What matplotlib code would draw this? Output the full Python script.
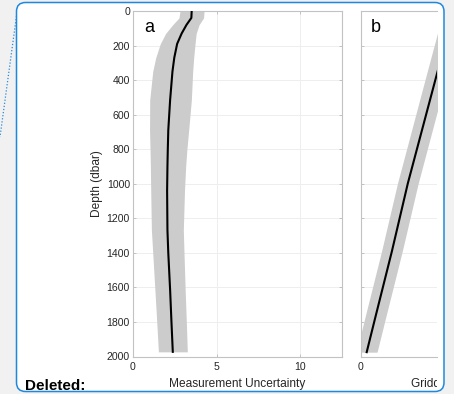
import numpy as np
import matplotlib
matplotlib.use("Agg")
import matplotlib.pyplot as plt
from matplotlib.patches import FancyBboxPatch
from matplotlib.lines import Line2D
from matplotlib.transforms import Bbox, IdentityTransform

depth_a = [0, 40, 80, 130, 190, 270, 350, 515, 690, 805, 900, 1040, 1268, 1400, 1615, 1800, 1973]
mean_a = [3.51, 3.49, 3.2, 2.91, 2.64, 2.47, 2.36, 2.22, 2.11, 2.08, 2.06, 2.04, 2.06, 2.11, 2.22, 2.3, 2.38]
lower_a = [2.81, 2.75, 2.37, 1.95, 1.63, 1.36, 1.18, 1.0, 0.99, 1.02, 1.04, 1.06, 1.1, 1.18, 1.31, 1.42, 1.52]
upper_a = [4.25, 4.22, 3.95, 3.78, 3.71, 3.63, 3.57, 3.49, 3.33, 3.22, 3.15, 3.08, 3.01, 3.05, 3.12, 3.19, 3.25]

# panel b: gridding uncertainty profile (only the left part is visible)
depth_b = [0, 361, 998, 1394, 1780, 1975]
mean_b = [5.55, 4.55, 2.8, 1.84, 0.84, 0.34]
lower_b = [4.93, 3.93, 2.18, 1.22, 0.22, -0.28]
upper_b = [6.17, 5.17, 3.42, 2.46, 1.46, 0.96]

depth_ticks = list(range(0, 2001, 200))
x_ticks_a = [0, 5, 10]
x_ticks_b = [0]
panel_labels = ["a", "b"]
x_labels = ["Measurement Uncertainty", "Gridding Uncertainty"]
y_label = "Depth (dbar)"

W, H = 454, 394
fig = plt.figure(figsize=(W / 100, H / 100), dpi=100)
fig.patch.set_facecolor("#f1f1f1")

plt.rcParams["font.family"] = ["Liberation Sans", "DejaVu Sans"]

# white rounded box with blue border (pixel coords, origin bottom-left)
box = FancyBboxPatch((16.5, 2.5), 444 - 16.5, 391.5 - 2.5,
                     boxstyle="round,pad=0,rounding_size=9",
                     transform=IdentityTransform(), facecolor="white",
                     edgecolor="#1f88de", linewidth=1.1, zorder=-5)
fig.patches.append(box)

# dotted connector at the left
fig.lines.append(Line2D([16.5, 0], [H - 16, H - 137], transform=IdentityTransform(),
                        color="#2a8ad8", linestyle=(0, (1, 1.5)), linewidth=0.9))

fig.text(25 / W, 4.5 / H, "Deleted:", fontsize=11, fontweight="bold",
         color="black", ha="left", va="baseline")

# axes geometry in pixels
top_px, bot_px = 11, 356.5
scale = 209 / 12.5   # pixels per unit on the x axis
ax_h = (bot_px - top_px) / H
ax_a = fig.add_axes([133 / W, (H - bot_px) / H, 209 / W, ax_h])
ax_b = fig.add_axes([361 / W, (H - bot_px) / H, 76 / W, ax_h])

spine_col = "#c2c2c2"
grid_col = "#eeeeee"

for ax, d, m, lo, hi in [(ax_a, depth_a, mean_a, lower_a, upper_a),
                          (ax_b, depth_b, mean_b, lower_b, upper_b)]:
    ax.fill_betweenx(d, lo, hi, color="#cccccc", linewidth=0, zorder=2)
    ax.plot(m, d, color="black", linewidth=1.5, zorder=3)
    ax.set_ylim(2000, 0)
    ax.set_yticks(depth_ticks)
    ax.grid(True, color=grid_col, linewidth=0.7, zorder=0)
    ax.set_axisbelow(True)
    for s in ax.spines.values():
        s.set_color(spine_col)
        s.set_linewidth(0.8)
    ax.tick_params(direction="in", length=2.5, width=0.7, color=spine_col,
                   labelsize=7.6, labelcolor="#262626", top=True, right=True)
    ax.tick_params(axis="x", pad=4.2)
    ax.tick_params(axis="y", pad=2.2)

ax_a.set_xlim(0, 12.5)
ax_a.set_xticks(x_ticks_a)

ax_b.set_xlim(0, 76 / scale)
ax_b.set_xticks(x_ticks_b)
ax_b.tick_params(labelleft=False, right=False)
ax_b.spines["right"].set_visible(False)

# panel letters
ax_a.text(11 / 209, (bot_px - 32) / (bot_px - top_px), panel_labels[0],
          transform=ax_a.transAxes, fontsize=13, va="baseline", ha="left")
ax_b.text(10 / 76, (bot_px - 32) / (bot_px - top_px), panel_labels[1],
          transform=ax_b.transAxes, fontsize=13, va="baseline", ha="left")

# axis labels
base_y = (H - 387) / H
fig.text((133 + 104.5) / W, base_y, x_labels[0], fontsize=8.6,
         color="#262626", ha="center", va="baseline")
tb = fig.text((361 + 104.5) / W, base_y, x_labels[1], fontsize=8.6,
              color="#262626", ha="center", va="baseline")
# the screenshot is cut at the right edge of panel b
tb.set_clip_box(Bbox.from_extents(0, 0, 437, H))
tb.set_clip_on(True)

fig.text(97 / W, (H - (top_px + bot_px) / 2) / H, y_label, fontsize=8.6,
         color="#262626", rotation=90, ha="center", va="center")

fig.savefig("out.png", dpi=100, facecolor=fig.get_facecolor())
